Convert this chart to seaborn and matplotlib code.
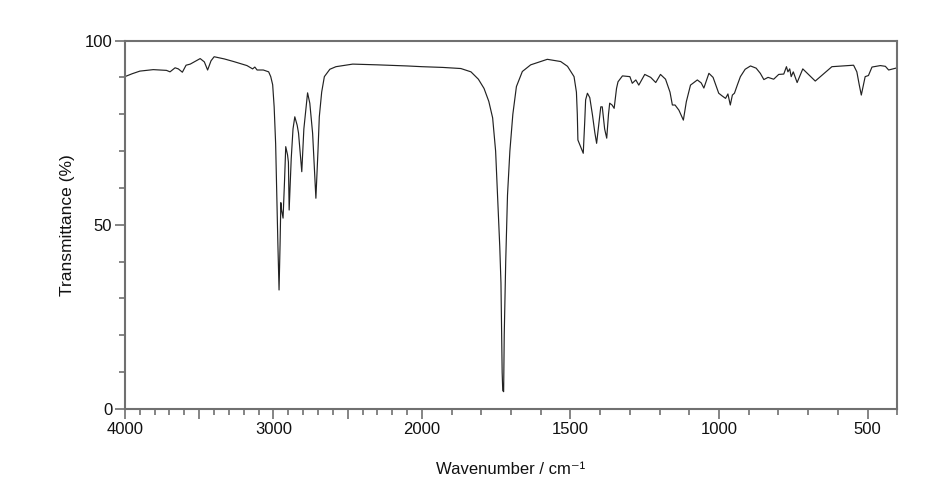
import numpy as np
import pandas as pd
import matplotlib
matplotlib.use("Agg")
import matplotlib.pyplot as plt
import seaborn as sns
from matplotlib.ticker import FixedLocator, FuncFormatter

# Wavenumbers (cm-1) and transmittance (%)
wavenumber = [
    4000, 3950, 3899, 3809, 3720, 3696, 3662, 3640, 3613, 3588, 3560, 3520, 3493,
    3465, 3443, 3420, 3399, 3330, 3268, 3178, 3140, 3125, 3110, 3068, 3032, 3018,
    3005, 2995, 2985, 2978, 2970, 2962, 2955, 2950, 2945, 2935, 2925, 2917, 2905,
    2899, 2894, 2880, 2868, 2856, 2840, 2831, 2809, 2795, 2770, 2755, 2736, 2714,
    2700, 2691, 2675, 2657, 2620, 2579, 2466, 2300, 2100, 2000, 1930, 1869, 1835,
    1810, 1791, 1775, 1762, 1752, 1744, 1738, 1734, 1730, 1728, 1725, 1723, 1718,
    1712, 1704, 1694, 1682, 1662, 1634, 1578, 1533, 1510, 1488, 1480, 1477, 1475,
    1466, 1457, 1452, 1449, 1443, 1435, 1426, 1418, 1412, 1405, 1398, 1393, 1385,
    1378, 1372, 1368, 1360, 1353, 1345, 1340, 1325, 1300, 1292, 1280, 1270, 1250,
    1230, 1213, 1197, 1180, 1165, 1157, 1148, 1135, 1120, 1110, 1096, 1073, 1060,
    1051, 1034, 1020, 1001, 990, 978, 970, 962, 955, 948, 938, 928, 912, 894, 875,
    861, 849, 835, 816, 799, 782, 773, 768, 762, 757, 750, 737, 718, 676, 620, 547,
    536, 528, 521, 508, 497, 485, 457, 440, 429, 410, 400,
]
transmittance = [
    90.2, 91.0, 91.7, 92.1, 91.9, 91.5, 92.6, 92.3, 91.4, 93.3, 93.6, 94.5, 95.1,
    94.2, 92.0, 94.5, 95.6, 95.0, 94.3, 93.2, 92.3, 92.8, 92.0, 92.0, 91.5, 90.2,
    88.0, 82.0, 72.0, 60.0, 45.0, 32.3, 45.0, 56.0, 54.0, 51.8, 62.0, 71.2, 69.0,
    67.0, 54.0, 68.0, 76.0, 79.3, 77.0, 74.9, 64.4, 76.0, 85.8, 83.0, 74.8, 57.2,
    70.0, 79.3, 86.0, 90.2, 92.2, 92.9, 93.6, 93.4, 93.1, 92.9, 92.7, 92.4, 91.5,
    89.5, 87.0, 83.5, 79.0, 70.0, 55.0, 44.0, 34.2, 10.0, 5.0, 4.7, 20.0, 40.0,
    58.0, 70.0, 80.0, 87.5, 91.6, 93.4, 94.9, 94.3, 93.0, 90.2, 86.0, 80.0, 73.0,
    71.2, 69.4, 78.0, 83.9, 85.7, 84.5, 79.8, 75.0, 72.1, 77.0, 82.0, 82.0, 76.0,
    73.5, 80.0, 83.0, 82.5, 81.6, 87.0, 88.8, 90.4, 90.2, 88.4, 89.3, 87.9, 90.8,
    90.0, 88.6, 90.8, 89.5, 86.0, 82.5, 82.5, 81.1, 78.4, 83.4, 87.9, 89.3, 88.5,
    87.1, 91.1, 90.0, 85.7, 85.0, 84.3, 85.5, 82.5, 85.2, 85.7, 88.0, 90.2, 92.2,
    93.1, 92.5, 91.1, 89.4, 90.0, 89.5, 90.8, 90.9, 92.9, 91.5, 92.3, 90.2, 91.5,
    88.6, 92.3, 89.0, 92.9, 93.3, 91.5, 88.0, 85.2, 90.2, 90.5, 92.8, 93.2, 93.0,
    92.0, 92.4, 92.6,
]
major_ticks = [4000, 3500, 3000, 2500, 2000, 1500, 1000, 500]
labelled_ticks = [4000, 3000, 2000, 1500, 1000, 500]
y_major = [0, 50, 100]

df = pd.DataFrame({"wavenumber": wavenumber, "T": transmittance})

sns.set_style("ticks")
plt.rcParams["font.family"] = ["Liberation Sans", "DejaVu Sans"]

fig = plt.figure(figsize=(9.25, 4.96), dpi=100)
ax = fig.add_axes([0.135, 0.1754, 0.835, 0.7429])


# Axis compressed by 2x above 2000 cm-1
def fwd(x):
    x = np.asarray(x, dtype=float)
    return np.where(x > 2000, 2000 + (x - 2000) / 2.0, x)


def inv(u):
    u = np.asarray(u, dtype=float)
    return np.where(u > 2000, 2000 + (u - 2000) * 2.0, u)


ax.set_xscale("function", functions=(fwd, inv))

sns.lineplot(data=df, x="wavenumber", y="T", ax=ax, color="#222222",
             linewidth=0.85, estimator=None, sort=True)

ax.set_xlim(4000, 400)
ax.set_ylim(0, 100)

ax.xaxis.set_major_locator(FixedLocator(major_ticks))
ax.xaxis.set_minor_locator(FixedLocator(list(range(400, 4001, 100))))
ax.xaxis.set_major_formatter(FuncFormatter(
    lambda v, p: f"{int(round(v))}" if int(round(v)) in labelled_ticks else ""))
ax.yaxis.set_major_locator(FixedLocator(y_major))
ax.yaxis.set_minor_locator(FixedLocator(list(range(0, 101, 10))))

spine_col = "#707070"
for s in ax.spines.values():
    s.set_color(spine_col)
    s.set_linewidth(1.5)
ax.tick_params(axis="both", which="major", length=7, width=1.2,
               color=spine_col, labelsize=12, labelcolor="#111111", pad=2)
ax.tick_params(axis="both", which="minor", length=4, width=1.2, color=spine_col)

ax.set_xlabel("Wavenumber / cm\u207b\u00b9", fontsize=12, color="#111111", labelpad=18)
ax.set_ylabel("Transmittance (%)", fontsize=12.5, color="#111111", labelpad=7)

fig.savefig("out.png", dpi=100)
